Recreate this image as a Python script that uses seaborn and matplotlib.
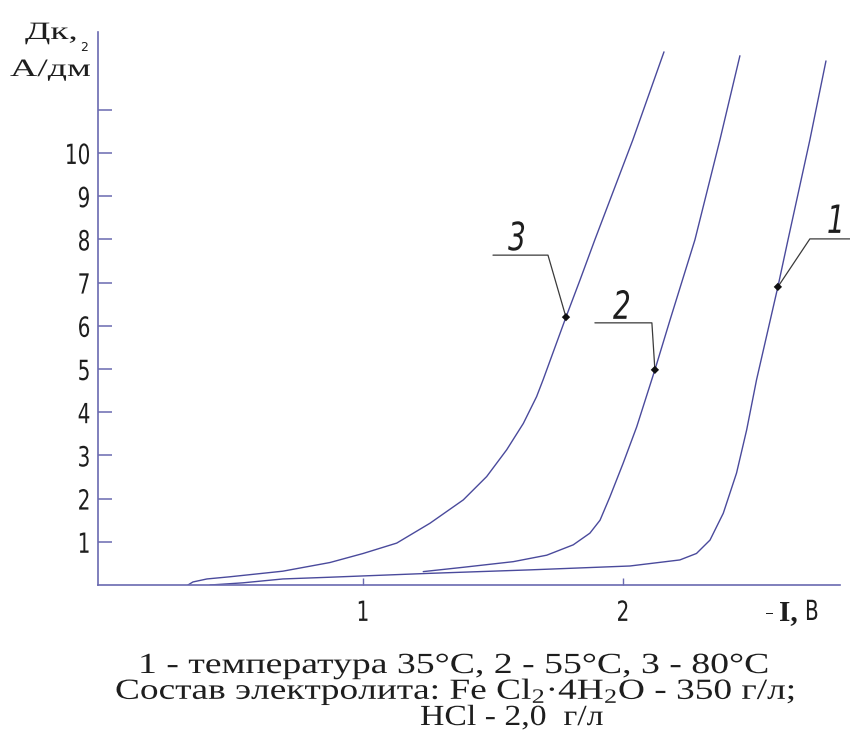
import numpy as np
import pandas as pd
import matplotlib
matplotlib.use("Agg")
import matplotlib.pyplot as plt
import seaborn as sns
from matplotlib import font_manager
from matplotlib.patheffects import AbstractPathEffect
from matplotlib.transforms import Affine2D

# Cathode polarization curves: -E (V) vs. current density Dk (A/dm2)
curve1_u = [0.412, 0.538, 0.692, 0.873, 1.258, 1.642, 2.027, 2.219, 2.283, 2.335,
            2.386, 2.437, 2.476, 2.514, 2.596, 2.635, 2.719, 2.781]
curve1_d = [0.00, 0.05, 0.14, 0.18, 0.27, 0.35, 0.44, 0.58, 0.73, 1.04,
            1.66, 2.59, 3.59, 4.75, 6.90, 7.99, 10.30, 12.13]

curve2_u = [1.232, 1.386, 1.578, 1.707, 1.809, 1.873, 1.912, 1.950, 2.001, 2.053,
            2.123, 2.181, 2.277, 2.373, 2.450]
curve2_d = [0.31, 0.41, 0.54, 0.69, 0.93, 1.20, 1.50, 2.04, 2.82, 3.66,
            4.98, 6.13, 7.99, 10.30, 12.25]

curve3_u = [0.327, 0.346, 0.400, 0.488, 0.692, 0.873, 1.001, 1.130, 1.258, 1.386,
            1.476, 1.553, 1.617, 1.668, 1.693, 1.781, 1.835, 1.892, 2.038, 2.158]
curve3_d = [0.00, 0.07, 0.14, 0.19, 0.32, 0.52, 0.73, 0.97, 1.43, 1.97,
            2.51, 3.13, 3.74, 4.36, 4.75, 6.20, 7.06, 7.99, 10.30, 12.34]

curve_names = ["1", "2", "3"]
marker_u = [2.596, 2.123, 1.781]
marker_d = [6.90, 4.98, 6.20]

y_ticks = list(range(1, 12))
y_tick_labels = [str(v) for v in range(1, 11)] + [""]
x_ticks = [1, 2]
x_tick_labels = ["1", "2"]

caption_lines = [
    "1 - температура 35°C, 2 - 55°C, 3 - 80°C",
    "Состав электролита: Fe Cl$_2$·4H$_2$O - 350 г/л;",
    "HCl - 2,0  г/л",
]

_installed = {f.name for f in font_manager.fontManager.ttflist}


def pick(*names):
    found = [n for n in names if n in _installed]
    return found + ["DejaVu Sans"]


SERIF = pick("Liberation Serif", "PT Serif", "DejaVu Serif")
SANS = pick("DejaVu Sans")

sns.set_theme(style="white")
plt.rcParams["font.family"] = SANS
plt.rcParams["mathtext.fontset"] = "custom"
plt.rcParams["mathtext.rm"] = SERIF[0]
plt.rcParams["mathtext.it"] = SERIF[0] + ":italic"

LINE = "#4a4a9c"
AXIS = "#6a6ab0"
INK = "#1e1e1e"

W, H = 850, 738
fig = plt.figure(figsize=(W / 100, H / 100), dpi=100)
fig.patch.set_facecolor("white")
ax = fig.add_axes([98 / W, 1 - 585 / H, (840 - 98) / W, (585 - 32) / H])
ax.set_facecolor("white")

df = pd.concat(
    [
        pd.DataFrame({"U": curve1_u, "D": curve1_d, "curve": curve_names[0]}),
        pd.DataFrame({"U": curve2_u, "D": curve2_d, "curve": curve_names[1]}),
        pd.DataFrame({"U": curve3_u, "D": curve3_d, "curve": curve_names[2]}),
    ],
    ignore_index=True,
)
sns.lineplot(data=df, x="U", y="D", hue="curve", palette=[LINE] * 3,
             estimator=None, sort=False, legend=False, linewidth=1.0, ax=ax)

ax.set_xlim(-0.019, 2.835)
ax.set_ylim(0, 12.8)
ax.set_xlabel("")
ax.set_ylabel("")

for side in ("top", "right"):
    ax.spines[side].set_visible(False)
for side in ("left", "bottom"):
    ax.spines[side].set_color(AXIS)
    ax.spines[side].set_linewidth(1.2)

ax.set_yticks(y_ticks)
ax.set_yticklabels(y_tick_labels)
ax.set_xticks(x_ticks)
ax.set_xticklabels(x_tick_labels)
ax.tick_params(axis="y", direction="in", length=10, width=1.1, color=AXIS,
               pad=5.5, labelsize=20, labelcolor=INK, left=True)
ax.tick_params(axis="x", direction="in", length=5, width=1.0, color=AXIS,
               pad=10, labelsize=20, labelcolor=INK, bottom=True)

sns.scatterplot(x=marker_u, y=marker_d, marker="D", s=18, color="#111111",
                edgecolor="none", zorder=5, ax=ax)

# Leader lines with curve numbers (offsets in pixels: right, up)
leaders = {
    "1": ((32, 48), (72, 48), (58, 54)),
    "2": ((-3, 47), (-60, 47), (-33, 51)),
    "3": ((-18, 62), (-73, 62), (-49, 67)),
}
to_data = ax.transData.inverted()
curve_labels = []
for name, u, d in zip(curve_names, marker_u, marker_d):
    knee, end, toff = leaders[name]
    px, py = ax.transData.transform((u, d))
    pts = to_data.transform([(px, py), (px + knee[0], py + knee[1]),
                             (px + end[0], py + end[1])])
    ax.plot(pts[:, 0], pts[:, 1], color="#3a3a3a", lw=0.9, clip_on=False, zorder=4)
    tx, ty = to_data.transform((px + toff[0], py + toff[1]))
    curve_labels.append(ax.text(tx, ty, name, ha="center", va="baseline", fontsize=28,
                                style="italic", family=SANS, color=INK, clip_on=False))


class HStretch(AbstractPathEffect):
    """Scale glyph outlines horizontally about a fixed x position."""

    def __init__(self, sx, x0):
        super().__init__()
        self._sx = sx
        self._x0 = x0

    def draw_path(self, renderer, gc, tpath, affine, rgbFace=None):
        tr = affine + Affine2D().translate(-self._x0, 0).scale(self._sx, 1).translate(self._x0, 0)
        renderer.draw_path(gc, tpath, tr, rgbFace)


def ftext(xpx, ypx, s, **kw):
    return fig.text(xpx / W, 1 - ypx / H, s, va="baseline", **kw)


# y-axis caption
ylab1 = ftext(25, 39, "Дк,", ha="left", fontsize=18, family=SERIF, color=INK)
ylab2 = ftext(10, 76, "А/дм", ha="left", fontsize=18, family=SERIF, color=INK)
ftext(80, 51, "2", ha="left", fontsize=9, family=SANS, color=INK)

# x-axis caption
dash = ftext(765, 620, "–", ha="left", fontsize=17, family=SANS, color=INK)
ftext(779, 620, "I,", ha="left", fontsize=21, family=SERIF, weight="bold", color=INK)
volt = ftext(805, 620, "В", ha="left", fontsize=20, family=SANS, color=INK)

# figure caption
cap = [
    ftext(138, 673, caption_lines[0], ha="left", fontsize=21, family=SERIF, color=INK),
    ftext(115, 699, caption_lines[1], ha="left", fontsize=21, family=SERIF, color=INK),
    ftext(420, 725, caption_lines[2], ha="left", fontsize=21, family=SERIF, color=INK),
]

fig.canvas.draw()
# widen serif captions to their printed widths
for txt, width in [(ylab1, 53), (ylab2, 81), (cap[0], 630), (cap[1], 680), (cap[2], 183)]:
    bb = txt.get_window_extent()
    txt.set_path_effects([HStretch(width / bb.width, bb.x0)])
# narrow drafting-style digits
for lab in ax.get_yticklabels():
    bb = lab.get_window_extent()
    lab.set_path_effects([HStretch(0.72, bb.x1)])
for lab in ax.get_xticklabels() + curve_labels:
    bb = lab.get_window_extent()
    lab.set_path_effects([HStretch(0.72, 0.5 * (bb.x0 + bb.x1))])
for txt in (dash, volt):
    bb = txt.get_window_extent()
    txt.set_path_effects([HStretch(0.72, bb.x0)])

fig.savefig("out.png", dpi=100, facecolor="white")
